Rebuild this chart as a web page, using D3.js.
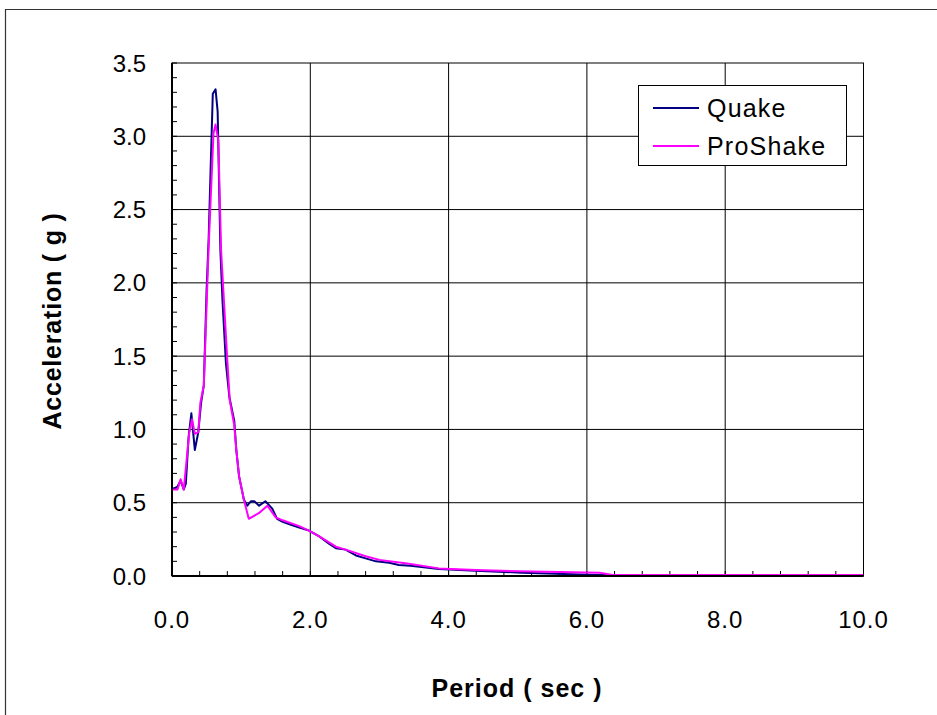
<!DOCTYPE html>
<html>
<head>
<meta charset="utf-8">
<script src="https://cdn.jsdelivr.net/npm/d3@7"></script>
<style>
  body { margin: 0; background: #fff; }
  svg { display: block; font-family: "Liberation Sans", Arial, sans-serif; }
</style>
</head>
<body>
<svg id="chart" width="937" height="715"></svg>
<script>
// ---- data ----
const quakePeriod = [0.00,0.08,0.125,0.17,0.20,0.24,0.28,0.33,0.38,0.42,0.46,0.50,0.53,0.56,0.59,0.63,0.66,0.70,0.73,0.78,0.83,0.90,0.93,0.97,1.04,1.09,1.14,1.19,1.26,1.35,1.45,1.52,1.60,1.72,1.84,1.98,2.13,2.27,2.37,2.51,2.66,2.80,2.95,3.14,3.28,3.45,3.86,4.39,5.06,6.15,6.50,10.0];
const quakeAccel  = [0.59,0.61,0.65,0.59,0.63,0.95,1.11,0.86,0.98,1.18,1.30,1.95,2.30,2.80,3.29,3.32,3.17,2.22,1.88,1.45,1.22,1.06,0.86,0.68,0.52,0.48,0.51,0.51,0.48,0.51,0.46,0.39,0.37,0.35,0.33,0.31,0.27,0.22,0.19,0.18,0.14,0.12,0.10,0.09,0.075,0.07,0.048,0.036,0.023,0.007,0.005,0.005];
const proPeriod = [0.00,0.08,0.125,0.17,0.25,0.29,0.33,0.38,0.41,0.46,0.53,0.60,0.63,0.67,0.71,0.80,0.835,0.90,0.93,0.97,1.04,1.11,1.26,1.38,1.50,1.60,1.84,1.98,2.13,2.37,2.51,2.80,3.00,3.40,3.86,4.39,5.21,6.18,6.37,10.0];
const proAccel  = [0.59,0.59,0.66,0.59,0.98,1.07,0.97,0.98,1.18,1.30,2.25,3.02,3.08,2.97,2.22,1.47,1.20,1.03,0.86,0.68,0.52,0.39,0.43,0.48,0.40,0.38,0.34,0.31,0.27,0.20,0.18,0.135,0.11,0.085,0.052,0.041,0.03,0.023,0.007,0.007];
const xTicks = [0,2,4,6,8,10];
const yTicks = [0,0.5,1.0,1.5,2.0,2.5,3.0,3.5];
const seriesNames = ["Quake","ProShake"];
const seriesColors = ["#000080","#FF00FF"];

// ---- layout ----
const svg = d3.select("#chart");
const L = 172, R = 863.5, T = 63, B = 576;
const x = d3.scaleLinear().domain([0,10]).range([L,R]);
const y = d3.scaleLinear().domain([0,3.5]).range([B,T]);

// outer frame
svg.append("path").attr("d","M5.5,720 V9.5 H940").attr("fill","none").attr("stroke","#333").attr("stroke-width",1.2);

// gridlines
const g = svg.append("g");
g.selectAll(".gx").data(xTicks.slice(1,-1)).join("line")
  .attr("x1",d=>x(d)).attr("x2",d=>x(d)).attr("y1",T).attr("y2",B)
  .attr("stroke","#000").attr("stroke-width",1);
g.selectAll(".gy").data(yTicks.slice(1,-1)).join("line")
  .attr("x1",L).attr("x2",R).attr("y1",d=>y(d)).attr("y2",d=>y(d))
  .attr("stroke","#000").attr("stroke-width",1);

// minor ticks
const yMinor = d3.range(0,3.5001,0.1);
g.selectAll(".my").data(yMinor).join("line")
  .attr("x1",L).attr("x2",L+5).attr("y1",d=>y(d)).attr("y2",d=>y(d))
  .attr("stroke","#000").attr("stroke-width",1);
const xMinor = d3.range(0,10.0001,0.4);
g.selectAll(".mx").data(xMinor).join("line")
  .attr("x1",d=>x(d)).attr("x2",d=>x(d)).attr("y1",B).attr("y2",B-5)
  .attr("stroke","#000").attr("stroke-width",1);

// series
const line = d3.line().x(d=>x(d[0])).y(d=>y(d[1]));
const quake = quakePeriod.map((p,i)=>[p,quakeAccel[i]]);
const pro = proPeriod.map((p,i)=>[p,proAccel[i]]);
svg.append("path").datum(quake).attr("d",line).attr("fill","none")
  .attr("stroke",seriesColors[0]).attr("stroke-width",2).attr("stroke-linejoin","round");
svg.append("path").datum(pro).attr("d",line).attr("fill","none")
  .attr("stroke",seriesColors[1]).attr("stroke-width",2).attr("stroke-linejoin","round");

// plot border
svg.append("rect").attr("x",L).attr("y",T).attr("width",R-L).attr("height",B-T)
  .attr("fill","none").attr("stroke","#000").attr("stroke-width",1);
svg.append("line").attr("x1",L).attr("x2",R).attr("y1",B).attr("y2",B).attr("stroke","#000").attr("stroke-width",2);
svg.append("line").attr("x1",L).attr("x2",L).attr("y1",T).attr("y2",B).attr("stroke","#000").attr("stroke-width",2);

// axes tick labels
const fmt = d3.format(".1f");
svg.append("g").selectAll("text").data(xTicks).join("text")
  .attr("x",d=>x(d)).attr("y",628).attr("text-anchor","middle")
  .attr("font-size",24).attr("letter-spacing",1).text(d=>fmt(d));
svg.append("g").selectAll("text").data(yTicks).join("text")
  .attr("x",146).attr("y",d=>y(d)+8.5).attr("text-anchor","end")
  .attr("font-size",24).text(d=>fmt(d));

// axis titles
svg.append("text").attr("x",517).attr("y",697).attr("text-anchor","middle")
  .attr("font-size",25).attr("font-weight","bold").attr("letter-spacing",1).text("Period ( sec )");
svg.append("text").attr("transform","translate(61,321) rotate(-90)").attr("text-anchor","middle")
  .attr("font-size",25).attr("font-weight","bold").attr("letter-spacing",0.8).text("Acceleration ( g )");

// legend
const lg = svg.append("g");
lg.append("rect").attr("x",638.5).attr("y",85.5).attr("width",208).attr("height",80)
  .attr("fill","#fff").attr("stroke","#000").attr("stroke-width",1);
const ly = [108,146];
seriesNames.forEach((n,i)=>{
  lg.append("line").attr("x1",653).attr("x2",699).attr("y1",ly[i]).attr("y2",ly[i])
    .attr("stroke",seriesColors[i]).attr("stroke-width",2);
  lg.append("text").attr("x",707).attr("y",ly[i]+9).attr("font-size",25)
    .attr("letter-spacing",1.2).text(n);
});
</script>
</body>
</html>
